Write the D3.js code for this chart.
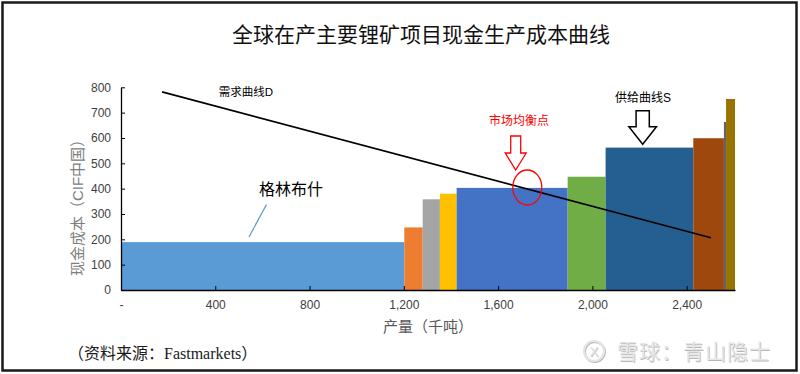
<!DOCTYPE html>
<html>
<head>
<meta charset="utf-8">
<script src="https://cdn.jsdelivr.net/npm/d3@7/dist/d3.min.js"></script>
<style>
  html, body { margin: 0; padding: 0; background: #fff; }
  svg { display: block; }
  text { font-family: "Liberation Sans", Arial, "Noto Sans CJK SC", sans-serif; }
</style>
</head>
<body>
<div id="chart"></div>
<script>
// supply curve: cumulative output (kt) where each project block starts/ends, and its cash cost
const barStart = [0, 1202, 1280, 1353, 1424, 1895, 2056, 2428, 2558, 2567];
const barEnd   = [1202, 1280, 1353, 1424, 1895, 2056, 2428, 2558, 2567, 2605];
const barCost  = [189, 247, 358, 380, 403, 447, 562, 599, 663, 754];
const barColors = ["#5B9BD5", "#ED7D31", "#A5A5A5", "#FFC000", "#4472C4",
                   "#70AD47", "#255E91", "#9E480E", "#636363", "#997300"];

// demand curve D (two end points)
const demandX = [174, 2503];
const demandY = [782, 206];

const xTicks = [0, 400, 800, 1200, 1600, 2000, 2400];
const yTicks = [0, 100, 200, 300, 400, 500, 600, 700, 800];

const width = 800, height = 374;

const svg = d3.select("#chart").append("svg")
  .attr("width", width)
  .attr("height", height);

// outer frame
svg.append("rect")
  .attr("x", 2.5).attr("y", 2.5)
  .attr("width", 794).attr("height", 368)
  .attr("fill", "#fff")
  .attr("stroke", "#1a1a1a")
  .attr("stroke-width", 2.5);

const x = d3.scaleLinear().domain([0, 2605]).range([121, 735]);
const y = d3.scaleLinear().domain([0, 800]).range([290, 87.3]);

// title
svg.append("text")
  .attr("x", 421).attr("y", 42)
  .attr("text-anchor", "middle")
  .attr("font-size", 21)
  .attr("fill", "#111")
  .style("font-family", "'Liberation Serif', 'Noto Sans CJK SC', serif")
  .text("全球在产主要锂矿项目现金生产成本曲线");

// bars
const bars = barStart.map((s, i) => ({ s, e: barEnd[i], v: barCost[i], c: barColors[i] }));
svg.append("g")
  .selectAll("rect")
  .data(bars)
  .join("rect")
  .attr("x", d => x(d.s))
  .attr("width", d => x(d.e) - x(d.s))
  .attr("y", d => y(d.v))
  .attr("height", d => y(0) - y(d.v))
  .attr("fill", d => d.c);

// axes
const xAxis = svg.append("g")
  .attr("transform", `translate(0,${y(0)})`)
  .call(d3.axisBottom(x)
    .tickValues(xTicks)
    .tickSizeInner(-4)
    .tickSizeOuter(0)
    .tickPadding(10)
    .tickFormat(d => d === 0 ? "-" : d3.format(",")(d)));

const yAxis = svg.append("g")
  .attr("transform", `translate(${x(0)},0)`)
  .call(d3.axisLeft(y)
    .tickValues(yTicks)
    .tickSizeInner(-4)
    .tickSizeOuter(0)
    .tickPadding(10));

[xAxis, yAxis].forEach(g => {
  g.select(".domain").attr("stroke", "#000").attr("stroke-width", 1.3);
  g.selectAll(".tick line").attr("stroke", "#000");
  g.selectAll(".tick text")
    .attr("fill", "#404040")
    .attr("font-size", 12)
    .style("font-family", "'Liberation Sans', Arial, sans-serif");
});

// axis titles
svg.append("text")
  .attr("x", 428).attr("y", 332)
  .attr("text-anchor", "middle")
  .attr("font-size", 15)
  .attr("fill", "#595959")
  .text("产量（千吨）");

svg.append("text")
  .attr("transform", "translate(83,204) rotate(-90)")
  .attr("text-anchor", "middle")
  .attr("font-size", 15)
  .attr("fill", "#808080")
  .text("现金成本（CIF中国）");

// demand line
svg.append("line")
  .attr("x1", x(demandX[0])).attr("y1", y(demandY[0]))
  .attr("x2", x(demandX[1])).attr("y2", y(demandY[1]))
  .attr("stroke", "#000")
  .attr("stroke-width", 1.6);

svg.append("text")
  .attr("x", 246).attr("y", 96)
  .attr("text-anchor", "middle")
  .attr("font-size", 11.5)
  .attr("fill", "#000")
  .text("需求曲线D");

// Greenbushes label
svg.append("line")
  .attr("x1", 249).attr("y1", 237)
  .attr("x2", 266.5).attr("y2", 204.5)
  .attr("stroke", "#5B9BD5")
  .attr("stroke-width", 1.3);

svg.append("text")
  .attr("x", 291).attr("y", 195)
  .attr("text-anchor", "middle")
  .attr("font-size", 16)
  .attr("fill", "#000")
  .text("格林布什");

// equilibrium
svg.append("ellipse")
  .attr("cx", 527.3).attr("cy", 187.5)
  .attr("rx", 14.5).attr("ry", 17.5)
  .attr("fill", "none")
  .attr("stroke", "#FF0000")
  .attr("stroke-width", 1.3);

const arrowPath = (cx, top, mid, tip, shaftHalf, headHalf) =>
  `M${cx - shaftHalf},${top} L${cx + shaftHalf},${top} L${cx + shaftHalf},${mid} ` +
  `L${cx + headHalf},${mid} L${cx},${tip} L${cx - headHalf},${mid} L${cx - shaftHalf},${mid} Z`;

svg.append("path")
  .attr("d", arrowPath(515.7, 136, 153, 170, 5, 10.5))
  .attr("fill", "#fff")
  .attr("stroke", "#FF0000")
  .attr("stroke-width", 1.3);

svg.append("text")
  .attr("x", 519).attr("y", 125)
  .attr("text-anchor", "middle")
  .attr("font-size", 12)
  .attr("fill", "#FF0000")
  .text("市场均衡点");

// supply label
svg.append("path")
  .attr("d", arrowPath(642.7, 110.7, 126.7, 144.3, 6.6, 13.8))
  .attr("fill", "#fff")
  .attr("stroke", "#000")
  .attr("stroke-width", 1.5);

svg.append("text")
  .attr("x", 643).attr("y", 102)
  .attr("text-anchor", "middle")
  .attr("font-size", 12)
  .attr("fill", "#000")
  .text("供给曲线S");

// source note
svg.append("text")
  .attr("x", 68).attr("y", 359)
  .attr("font-size", 16)
  .attr("fill", "#1a1a1a")
  .style("font-family", "'Liberation Serif', 'Noto Sans CJK SC', serif")
  .text("（资料来源：Fastmarkets）");

// watermark (embossed look: darker shadow under a light face)
const wm = svg.append("g");
[{ dx: 0.8, dy: 0.8, c: "#b8b8b8" }, { dx: 0, dy: 0, c: "#e6e6e6" }].forEach(l => {
  const g = wm.append("g").attr("transform", `translate(${l.dx},${l.dy})`);
  g.append("circle")
    .attr("cx", 594).attr("cy", 351)
    .attr("r", 10)
    .attr("fill", "none")
    .attr("stroke", l.c)
    .attr("stroke-width", 2.2);
  g.append("text")
    .attr("x", 594).attr("y", 356)
    .attr("text-anchor", "middle")
    .attr("font-size", 13)
    .attr("fill", l.c)
    .text("X");
  g.append("text")
    .attr("x", 617).attr("y", 359)
    .attr("font-size", 21)
    .attr("fill", l.c)
    .style("letter-spacing", "1px")
    .text("雪球：青山隐士");
});
</script>
</body>
</html>
